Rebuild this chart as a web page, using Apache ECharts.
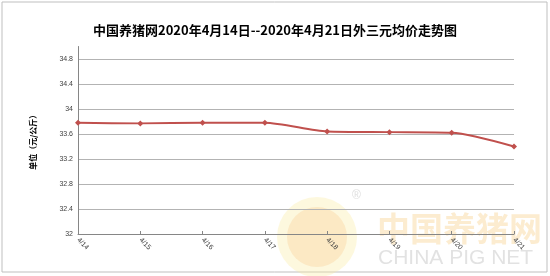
<!DOCTYPE html>
<html><head><meta charset="utf-8">
<script src="https://cdn.jsdelivr.net/npm/echarts@6/dist/echarts.min.js"></script>
<style>html,body{margin:0;padding:0;background:#fff}#c{width:550px;height:276px}</style>
</head><body><div id="c"></div>
<script>
const titleText = '中国养猪网2020年4月14日--2020年4月21日外三元均价走势图';
const categories = ['4/14','4/15','4/16','4/17','4/18','4/19','4/20','4/21'];
const prices = [33.78, 33.77, 33.78, 33.78, 33.64, 33.63, 33.62, 33.40];
const yName = '单位（元/公斤）';

const chart = echarts.init(document.getElementById('c'), null, {renderer:'canvas'});
chart.setOption({
  backgroundColor:'#fff',
  animation:false,
  title:{text:titleText,left:'center',top:19,
    textStyle:{fontFamily:'Noto Sans CJK SC',fontSize:13,fontWeight:'bold',color:'#000'}},
  graphic:[
    {type:'rect',shape:{x:2,y:2,width:545,height:270},style:{fill:null,stroke:'#bfbfbf',lineWidth:1},z:-10},
    {type:'circle',shape:{cx:317,cy:237,r:40},style:{fill:'rgba(250,235,160,0.35)'},z:-5},
    {type:'circle',shape:{cx:317,cy:237,r:30},style:{fill:'rgba(248,205,150,0.35)'},z:-5},
    {type:'text',left:352,top:190,style:{text:'®',fontSize:12,fill:'rgba(200,200,200,0.6)'},z:-5},
    {type:'text',left:377,top:212,style:{text:'中国养猪网',fontSize:33,fontWeight:'bold',fontFamily:'Noto Sans CJK SC',fill:'rgba(245,200,120,0.35)'},z:-5},
    {type:'text',left:378,top:248,style:{text:'CHINA PIG NET',fontSize:21,fontFamily:'Liberation Sans',fill:'rgba(190,190,190,0.45)'},z:-5}
  ],
  grid:{left:78,right:36,top:46.5,bottom:42,containLabel:false},
  xAxis:{type:'category',data:categories,boundaryGap:false,
    axisLine:{lineStyle:{color:'#868686',width:1}},
    axisTick:{show:true,inside:true,length:3,alignWithLabel:true,lineStyle:{color:'#868686'}},
    axisLabel:{rotate:-45,fontSize:7,color:'#404040',margin:5,fontFamily:'Liberation Sans'},
    splitLine:{show:false}},
  yAxis:{type:'value',min:32,max:35,interval:0.4,
    name:yName,nameLocation:'middle',nameGap:41,nameRotate:90,
    nameTextStyle:{fontSize:8,fontWeight:'bold',color:'#000',fontFamily:'Noto Sans CJK SC'},
    axisLine:{show:true,lineStyle:{color:'#868686',width:1}},
    axisTick:{show:false},
    axisLabel:{fontSize:7,color:'#404040',margin:5,showMaxLabel:false,fontFamily:'Liberation Sans',
      formatter:function(v){return v>=34.99?'':String(Math.round(v*10)/10);}},
    splitLine:{show:true,showMaxLine:false,lineStyle:{color:'#b3b3b3',width:1}}},
  series:[{type:'line',data:prices,smooth:0.25,
    lineStyle:{color:'#c0504d',width:2},
    itemStyle:{color:'#c0504d'},
    symbol:'diamond',symbolSize:6,showSymbol:true}]
});
</script></body></html>
